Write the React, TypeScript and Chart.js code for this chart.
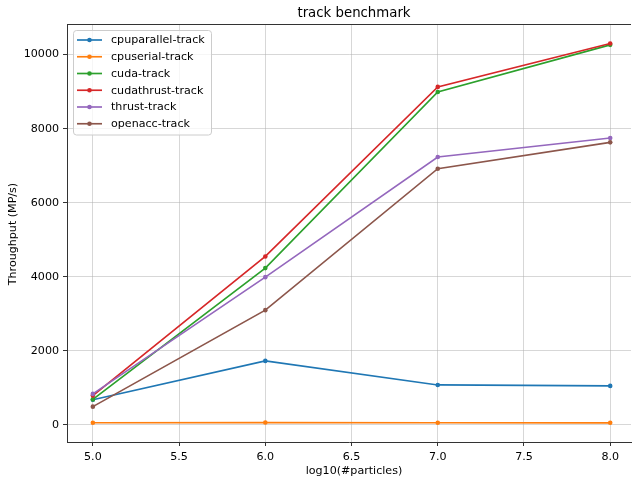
import React, { useEffect, useRef } from "react";
import { Chart, registerables } from "chart.js";

Chart.register(...registerables);

// ---- data ----
const xValues = [5.0, 6.0, 7.0, 8.0];
const seriesNames = [
  "cpuparallel-track",
  "cpuserial-track",
  "cuda-track",
  "cudathrust-track",
  "thrust-track",
  "openacc-track",
];
const cpuparallel = [680, 1730, 1080, 1055];
const cpuserial = [60, 65, 60, 58];
const cuda = [690, 4235, 8990, 10262];
const cudathrust = [793, 4549, 9127, 10297];
const thrust = [838, 3991, 7235, 7748];
const openacc = [495, 3100, 6919, 7630];
const seriesValues = [cpuparallel, cpuserial, cuda, cudathrust, thrust, openacc];
const colors = ["#1f77b4", "#ff7f0e", "#2ca02c", "#d62728", "#9467bd", "#8c564b"];
const xTicks = [5.0, 5.5, 6.0, 6.5, 7.0, 7.5, 8.0];
const yTicks = [0, 2000, 4000, 6000, 8000, 10000];
const chartTitle = "track benchmark";
const xLabel = "log10(#particles)";
const yLabel = "Throughput (MP/s)";

// ---- layout ----
const W = 635;
const H = 477;
const AREA = { left: 67, top: 24, right: 635, bottom: 442 };
const FONT = "'DejaVu Sans', sans-serif";
const TICK_FONT_SIZE = 11.1;
const SPINE = "#333333";
const GRID = "rgba(176,176,176,0.5)";

const textPlugin = {
  id: "mplText",
  afterDraw(chart: any) {
    const ctx = chart.ctx as CanvasRenderingContext2D;
    const a = chart.chartArea;
    ctx.save();
    // top spine
    ctx.strokeStyle = SPINE;
    ctx.lineWidth = 1;
    ctx.beginPath();
    ctx.moveTo(a.left, a.top + 0.5);
    ctx.lineTo(a.right, a.top + 0.5);
    ctx.stroke();

    // title
    ctx.fillStyle = "#000";
    ctx.font = `13.3px ${FONT}`;
    ctx.textAlign = "center";
    ctx.textBaseline = "alphabetic";
    const cx = 354;
    ctx.fillText(chartTitle, cx, 17);

    // x label
    ctx.font = `${TICK_FONT_SIZE}px ${FONT}`;
    ctx.fillText(xLabel, cx, 474);

    // y label
    ctx.save();
    ctx.translate(13.5, 234);
    ctx.rotate(-Math.PI / 2);
    ctx.textBaseline = "middle";
    ctx.fillText(yLabel, 0, 0);
    ctx.restore();

    // legend
    const bx = 73.5, by = 30.5, bw = 138, bh = 104.5, r = 3;
    ctx.fillStyle = "rgba(255,255,255,0.8)";
    ctx.strokeStyle = "#cccccc";
    ctx.lineWidth = 1;
    ctx.beginPath();
    ctx.moveTo(bx + r, by);
    ctx.lineTo(bx + bw - r, by);
    ctx.arcTo(bx + bw, by, bx + bw, by + r, r);
    ctx.lineTo(bx + bw, by + bh - r);
    ctx.arcTo(bx + bw, by + bh, bx + bw - r, by + bh, r);
    ctx.lineTo(bx + r, by + bh);
    ctx.arcTo(bx, by + bh, bx, by + bh - r, r);
    ctx.lineTo(bx, by + r);
    ctx.arcTo(bx, by, bx + r, by, r);
    ctx.closePath();
    ctx.fill();
    ctx.stroke();

    ctx.font = `${TICK_FONT_SIZE}px ${FONT}`;
    ctx.textAlign = "left";
    ctx.textBaseline = "middle";
    seriesNames.forEach((name, i) => {
      const y = 40 + i * 16.75;
      ctx.strokeStyle = colors[i];
      ctx.lineWidth = 1.67;
      ctx.beginPath();
      ctx.moveTo(77, y);
      ctx.lineTo(102, y);
      ctx.stroke();
      ctx.fillStyle = colors[i];
      ctx.beginPath();
      ctx.arc(89.5, y, 2.3, 0, Math.PI * 2);
      ctx.fill();
      ctx.fillStyle = "#000";
      ctx.fillText(name, 111, y + 0.5);
    });
    ctx.restore();
  },
};

export default function App() {
  const ref = useRef<HTMLCanvasElement | null>(null);

  useEffect(() => {
    if (!ref.current) return;
    const datasets = seriesNames.map((name, i) => ({
      label: name,
      data: xValues.map((x, j) => ({ x, y: seriesValues[i][j] })),
      borderColor: colors[i],
      backgroundColor: colors[i],
      borderWidth: 1.67,
      pointRadius: 2.3,
      pointBorderWidth: 0,
      pointBackgroundColor: colors[i],
      tension: 0,
      fill: false,
      order: seriesNames.length - i,
    }));

    const chart = new Chart(ref.current, {
      type: "line",
      data: { datasets },
      plugins: [textPlugin],
      options: {
        responsive: false,
        animation: false,
        devicePixelRatio: 1,
        layout: { padding: { left: 0, top: AREA.top, right: W - AREA.right, bottom: 0 } },
        plugins: {
          legend: { display: false },
          title: { display: false },
          tooltip: { enabled: false },
        },
        scales: {
          x: {
            type: "linear",
            min: 4.85,
            max: 8.1206,
            afterBuildTicks: (s: any) => {
              s.ticks = xTicks.map((v) => ({ value: v }));
            },
            afterFit: (s: any) => {
              s.height = H - AREA.bottom;
              s.paddingLeft = 0;
              s.paddingRight = 0;
              s.paddingTop = 0;
              s.paddingBottom = 0;
            },
            ticks: {
              callback: (v: any) => Number(v).toFixed(1),
              font: { family: FONT, size: TICK_FONT_SIZE },
              color: "#000",
              padding: 4,
              maxRotation: 0,
              autoSkip: false,
            },
            grid: { color: GRID, lineWidth: 1, tickLength: 4, tickColor: SPINE },
            border: { color: SPINE, width: 1 },
          },
          y: {
            type: "linear",
            min: -460,
            max: 10825,
            afterBuildTicks: (s: any) => {
              s.ticks = yTicks.map((v) => ({ value: v }));
            },
            afterFit: (s: any) => {
              s.width = AREA.left;
              s.paddingLeft = 0;
              s.paddingRight = 0;
              s.paddingTop = 0;
              s.paddingBottom = 0;
            },
            ticks: {
              callback: (v: any) => String(v),
              font: { family: FONT, size: TICK_FONT_SIZE },
              color: "#000",
              padding: 4,
              autoSkip: false,
            },
            grid: { color: GRID, lineWidth: 1, tickLength: 4, tickColor: SPINE },
            border: { color: SPINE, width: 1 },
          },
        },
      } as any,
    });
    return () => chart.destroy();
  }, []);

  return (
    <div style={{ position: "fixed", left: 0, top: 0, width: W, height: H, overflow: "hidden", background: "#fff" }}>
      <canvas ref={ref} width={W} height={H} style={{ width: W, height: H, display: "block" }} />
    </div>
  );
}
